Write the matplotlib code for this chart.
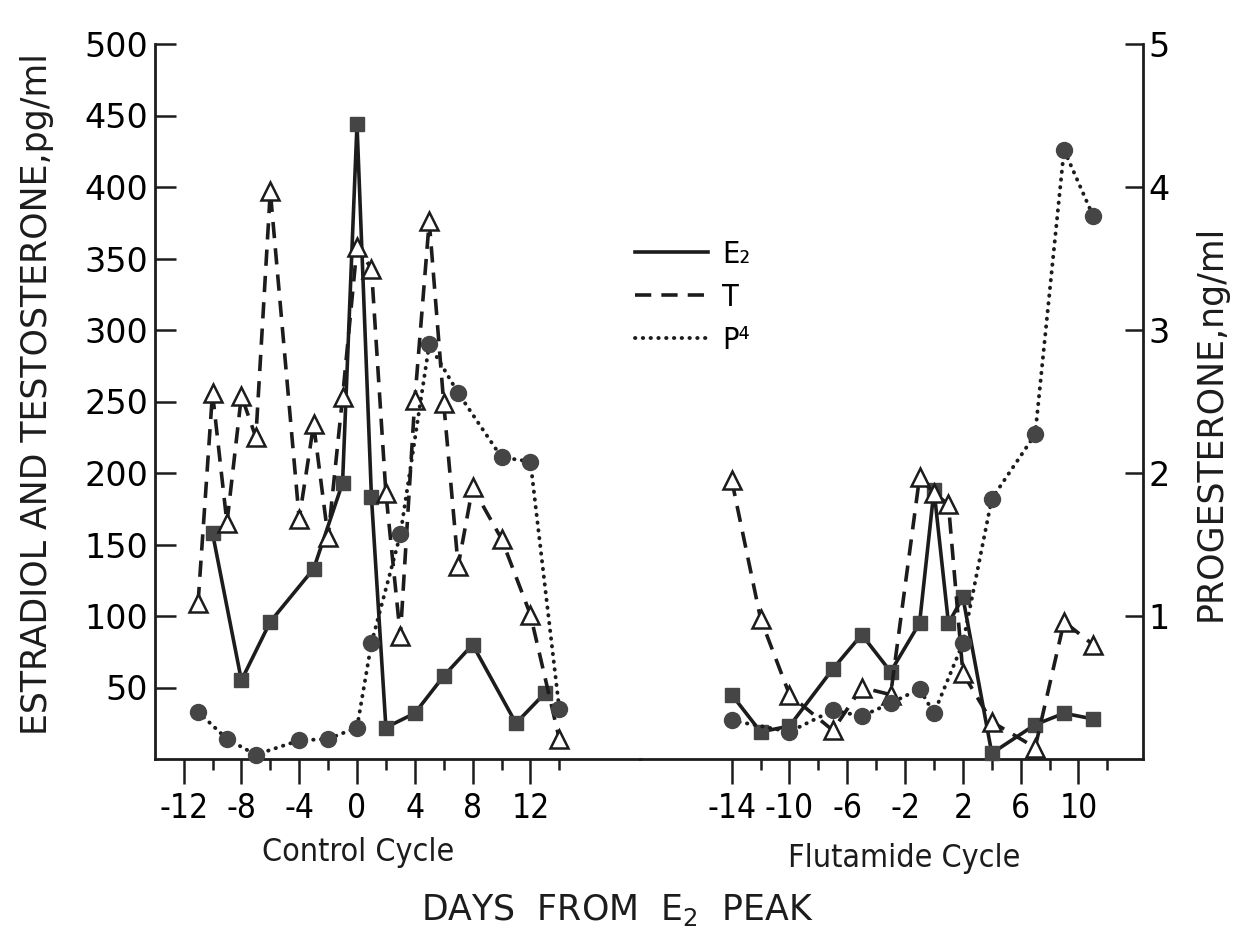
import numpy as np
import matplotlib.pyplot as plt
from matplotlib.lines import Line2D
from matplotlib.font_manager import FontProperties

# control cycle: estradiol (pg/ml), testosterone (pg/ml), progesterone (ng/ml)
ctrl_e2_days = [-10, -8, -6, -3, -1, 0, 1, 2, 4, 6, 8, 11, 13]
ctrl_e2 = [158, 55, 96, 133, 193, 444, 183, 22, 32, 58, 80, 25, 46]

ctrl_t_days = [-11, -10, -9, -8, -7, -6, -4, -3, -2, -1, 0, 1, 2, 3, 4, 5, 6, 7, 8, 10, 12, 14]
ctrl_t = [109, 256, 165, 254, 225, 397, 168, 234, 155, 253, 358, 343, 186, 86, 251, 376, 249, 135, 190, 154, 101, 14]

ctrl_p4_days = [-11, -9, -7, -4, -2, 0, 1, 3, 5, 7, 10, 12, 14]
ctrl_p4 = [0.33, 0.14, 0.03, 0.13, 0.14, 0.22, 0.81, 1.57, 2.90, 2.56, 2.11, 2.08, 0.35]

# flutamide cycle
flut_e2_days = [-14, -12, -10, -7, -5, -3, -1, 0, 1, 2, 4, 7, 9, 11]
flut_e2 = [45, 19, 23, 63, 87, 61, 95, 188, 95, 113, 4, 24, 32, 28]

flut_t_days = [-14, -12, -10, -7, -5, -3, -1, 0, 1, 2, 4, 7, 9, 11]
flut_t = [195, 98, 45, 20, 50, 45, 197, 186, 178, 60, 26, 8, 96, 80]

flut_p4_days = [-14, -10, -7, -5, -3, -1, 0, 2, 4, 7, 9, 11]
flut_p4 = [0.27, 0.19, 0.34, 0.30, 0.39, 0.49, 0.32, 0.81, 1.82, 2.27, 4.26, 3.80]

ctrl_major = [-12, -8, -4, 0, 4, 8, 12]
ctrl_minor = [-10, -6, -2, 2, 6, 10, 14]
flut_major = [-14, -10, -6, -2, 2, 6, 10]
flut_minor = [-12, -8, -4, 0, 4, 8, 12]
left_ticks = [50, 100, 150, 200, 250, 300, 350, 400, 450, 500]
right_ticks = [1, 2, 3, 4, 5]

ink = '#1c1c1c'
fill = '#454545'
plt.rcParams['font.family'] = ['DejaVu Sans']
narrow = FontProperties(family=['DejaVu Sans'], stretch='condensed', size=23)
narrow_tick = FontProperties(family=['DejaVu Sans'], stretch='condensed', size=24)
narrow_leg = FontProperties(family=['DejaVu Sans'], stretch='condensed', size=22)

W, H = 1241, 941
fig = plt.figure(figsize=(W / 100, H / 100), dpi=100)

# frame in pixels; the two cycles share one baseline but have separate day scales
left, right, split = 155, 1143, 640
bottom, top = 759, 44
px_day = 14.45
ctrl_zero, flut_zero = 357, 934

ax1 = fig.add_axes([left / W, 1 - bottom / H, (split - left) / W, (bottom - top) / H])
ax2 = fig.add_axes([split / W, 1 - bottom / H, (right - split) / W, (bottom - top) / H])
ax1.set_xlim((left - ctrl_zero) / px_day, (split - ctrl_zero) / px_day)
ax2.set_xlim((split - flut_zero) / px_day, (right - flut_zero) / px_day)
for ax in (ax1, ax2):
    ax.set_ylim(0, 500)
    ax.set_facecolor('none')

ax1p = ax1.twinx()
ax2p = ax2.twinx()
for ax in (ax1p, ax2p):
    ax.set_ylim(0, 5)
    for s in ax.spines.values():
        s.set_visible(False)

e2_style = dict(color=ink, lw=2.6, ls='-', marker='s', ms=10, mfc=fill, mec=fill, clip_on=False, zorder=3)
t_style = dict(color=ink, lw=2.6, ls=(0, (4.5, 2.8)), marker='^', ms=13, mfc='white', mec=ink, mew=1.8,
               clip_on=False, zorder=4)
p4_style = dict(color=ink, lw=2.8, ls=(0, (0.1, 1.9)), dash_capstyle='round', marker='o', ms=11.5,
                mfc=fill, mec=fill, clip_on=False, zorder=3)

ax1.plot(ctrl_e2_days, ctrl_e2, **e2_style)
ax1.plot(ctrl_t_days, ctrl_t, **t_style)
ax1p.plot(ctrl_p4_days, ctrl_p4, **p4_style)
ax2.plot(flut_e2_days, flut_e2, **e2_style)
ax2.plot(flut_t_days, flut_t, **t_style)
ax2p.plot(flut_p4_days, flut_p4, **p4_style)

# spines
for ax in (ax1, ax2):
    ax.spines['top'].set_visible(False)
    ax.spines['right'].set_visible(False)
    ax.spines['bottom'].set_linewidth(2.0)
    ax.spines['bottom'].set_color(ink)
ax1.spines['left'].set_linewidth(2.0)
ax1.spines['left'].set_color(ink)
ax2.spines['left'].set_visible(False)
ax2p.spines['right'].set_visible(True)
ax2p.spines['right'].set_linewidth(2.0)
ax2p.spines['right'].set_color(ink)

# x ticks
for ax, major, minor in ((ax1, ctrl_major, ctrl_minor), (ax2, flut_major, flut_minor)):
    ax.set_xticks(major)
    ax.set_xticklabels([str(d) for d in major], fontproperties=narrow_tick)
    ax.set_xticks(minor, minor=True)
    ax.tick_params(axis='x', which='major', direction='out', length=18, width=1.8, color=ink, pad=6)
    ax.tick_params(axis='x', which='minor', direction='out', length=8, width=1.8, color=ink)

# y ticks
ax1.set_yticks(left_ticks)
ax1.set_yticklabels([str(v) for v in left_ticks], fontsize=24)
ax1.tick_params(axis='y', direction='in', length=15, width=1.8, color=ink, pad=5)
ax2.set_yticks([])
ax1p.set_yticks([])
ax2p.set_yticks(right_ticks)
ax2p.set_yticklabels([str(v) for v in right_ticks], fontsize=24)
ax2p.tick_params(axis='y', direction='in', length=13, width=1.8, color=ink, pad=4)

# axis titles
fig.text(37 / W, 1 - 394 / H, 'ESTRADIOL AND TESTOSTERONE,pg/ml', rotation=90,
         ha='center', va='center', fontsize=25, color=ink)
fig.text(1211 / W, 1 - 423 / H, 'PROGESTERONE,ng/ml', rotation=90,
         ha='center', va='center', fontsize=25, color=ink)
fig.text(358 / W, 1 - 853 / H, 'Control Cycle', ha='center', va='center',
         fontproperties=narrow, color=ink)
fig.text(904 / W, 1 - 858 / H, 'Flutamide Cycle', ha='center', va='center',
         fontproperties=narrow, color=ink)
fig.text(617 / W, 1 - 910 / H, r'DAYS  FROM  E$_2$  PEAK', ha='center', va='center',
         fontsize=25, color=ink)

# legend
handles = [
    Line2D([], [], color=ink, lw=2.6, ls='-'),
    Line2D([], [], color=ink, lw=2.6, ls=(0, (4.5, 2.8))),
    Line2D([], [], color=ink, lw=2.8, ls=(0, (0.1, 1.9)), dash_capstyle='round'),
]
fig.legend(handles, ['E₂', 'T', 'P⁴'], loc='upper left', bbox_to_anchor=(635 / W, 1 - 240 / H),
           frameon=False, prop=narrow_leg, handlelength=2.4,
           handletextpad=0.45, labelspacing=0.45, borderpad=0, borderaxespad=0)

fig.savefig('out.png', dpi=100, facecolor='white')
